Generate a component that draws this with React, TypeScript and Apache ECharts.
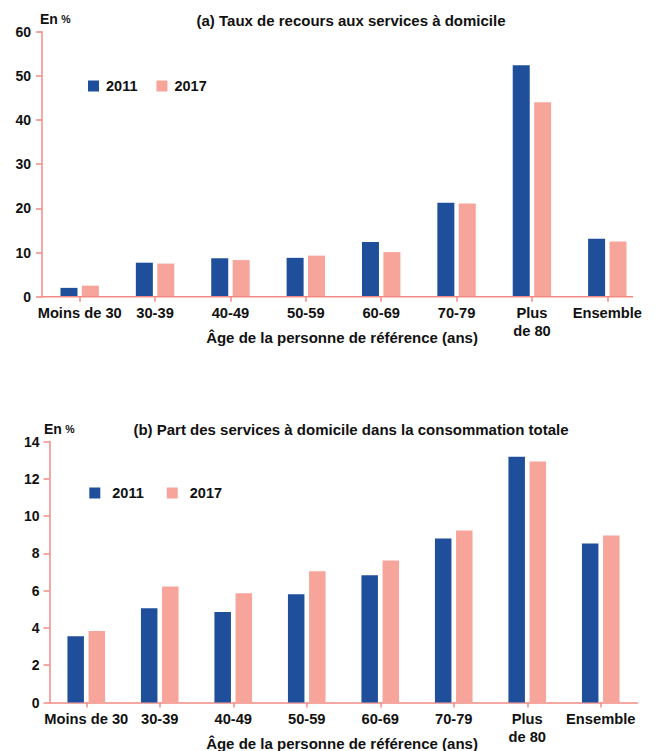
import React, { useEffect, useRef } from "react";
import * as echarts from "echarts";

const categories = ["Moins de 30", "30-39", "40-49", "50-59", "60-69", "70-79", "Plus\nde 80", "Ensemble"];
const seriesNames = ["2011", "2017"];
const recours2011 = [2.0, 7.7, 8.7, 8.8, 12.4, 21.3, 52.4, 13.1];
const recours2017 = [2.5, 7.5, 8.3, 9.3, 10.1, 21.1, 44.0, 12.5];
const part2011 = [3.55, 5.05, 4.85, 5.8, 6.82, 8.8, 13.18, 8.53];
const part2017 = [3.83, 6.22, 5.86, 7.04, 7.62, 9.22, 12.93, 8.96];
const titleA = "(a) Taux de recours aux services à domicile";
const titleB = "(b) Part des services à domicile dans la consommation totale";
const xAxisTitle = "Âge de la personne de référence (ans)";

const BLUE = "#1f4e9b";
const PINK = "#f7a59b";
const AXIS = "#f28a84";
const FONT = "'Liberation Sans', Arial, sans-serif";
const TXT = "#111111";

export default function App() {
  const ref = useRef<HTMLDivElement>(null);
  useEffect(() => {
    if (!ref.current) return;
    const chart = echarts.init(ref.current, undefined, { renderer: "svg" });
    const labelStyle = {
      fontFamily: FONT,
      fontWeight: "bold" as const,
      color: TXT,
    };
    const xAxisBase = (gridIndex: number, showLine: boolean) => ({
      type: "category" as const,
      gridIndex,
      data: categories,
      axisLine: { show: showLine, lineStyle: { color: AXIS, width: 1.5 } },
      axisTick: { show: true, alignWithLabel: true, length: 5, lineStyle: { color: AXIS, width: 1.5 } },
      axisLabel: { ...labelStyle, fontSize: 14.7, interval: 0, margin: 7, lineHeight: 18 },
    });
    const yAxisBase = (gridIndex: number, max: number, interval: number, margin: number) => ({
      type: "value" as const,
      gridIndex,
      min: 0,
      max,
      interval,
      splitLine: { show: false },
      axisLine: { show: true, lineStyle: { color: AXIS, width: 1.5 } },
      axisTick: { show: true, length: 6, lineStyle: { color: AXIS, width: 1.5 } },
      axisLabel: { ...labelStyle, fontSize: 14, margin },
    });
    const unit = (x: number, y: number) => ({
      type: "text" as const,
      left: x,
      top: y,
      style: {
        text: "{a|En} {b|%}",
        rich: {
          a: { fontFamily: FONT, fontWeight: "bold", fontSize: 14, fill: TXT },
          b: { fontFamily: FONT, fontWeight: "bold", fontSize: 10.5, fill: TXT },
        },
      },
    });
    const centeredText = (x: number, y: number, text: string, size: number) => ({
      type: "text" as const,
      x,
      y,
      style: {
        text,
        fontFamily: FONT,
        fontWeight: "bold",
        fontSize: size,
        fill: TXT,
        textAlign: "center",
        textVerticalAlign: "middle",
      },
    });
    chart.setOption({
      animation: false,
      grid: [
        { left: 42, top: 31.7, width: 603, height: 265, outerBoundsMode: "none", containLabel: false },
        { left: 49.5, top: 441.5, width: 588, height: 261, outerBoundsMode: "none", containLabel: false },
      ],
      legend: [
        {
          data: seriesNames,
          left: 88,
          top: 78,
          padding: 0,
          itemWidth: 11,
          itemHeight: 11,
          itemGap: 19,
          icon: "rect",
          textStyle: { ...labelStyle, fontSize: 14.5, lineHeight: 16, padding: [0, 0, 0, 2] },
        },
        {
          data: seriesNames,
          left: 89.3,
          top: 485,
          padding: 0,
          itemWidth: 11,
          itemHeight: 11,
          itemGap: 23,
          icon: "rect",
          textStyle: { ...labelStyle, fontSize: 14.5, lineHeight: 16, padding: [0, 0, 0, 7] },
        },
      ],
      xAxis: [xAxisBase(0, false), xAxisBase(1, true)],
      yAxis: [yAxisBase(0, 60, 10, 11), yAxisBase(1, 14, 2, 10)],
      series: [
        { name: seriesNames[0], type: "bar", xAxisIndex: 0, yAxisIndex: 0, data: recours2011, barWidth: 17, barGap: "26%", itemStyle: { color: BLUE } },
        { name: seriesNames[1], type: "bar", xAxisIndex: 0, yAxisIndex: 0, data: recours2017, barWidth: 17, barGap: "26%", itemStyle: { color: PINK } },
        { name: seriesNames[0], type: "bar", xAxisIndex: 1, yAxisIndex: 1, data: part2011, barWidth: 16.5, barGap: "28%", itemStyle: { color: BLUE } },
        { name: seriesNames[1], type: "bar", xAxisIndex: 1, yAxisIndex: 1, data: part2017, barWidth: 16.5, barGap: "28%", itemStyle: { color: PINK } },
      ],
      graphic: [
        {
          type: "line",
          shape: { x1: 42, y1: 296.7, x2: 633, y2: 296.7 },
          style: { stroke: AXIS, lineWidth: 1.5 },
          z: 10,
        },
        unit(40, 12),
        unit(44, 421.5),
        centeredText(351, 20, titleA, 15),
        centeredText(351, 429, titleB, 15),
        centeredText(342, 337, xAxisTitle, 15),
        centeredText(342, 743.5, xAxisTitle, 15),
      ],
    });
    return () => chart.dispose();
  }, []);
  return (
    <div
      ref={ref}
      style={{ position: "absolute", left: 0, top: 0, width: 656, height: 751, background: "#ffffff" }}
    />
  );
}
